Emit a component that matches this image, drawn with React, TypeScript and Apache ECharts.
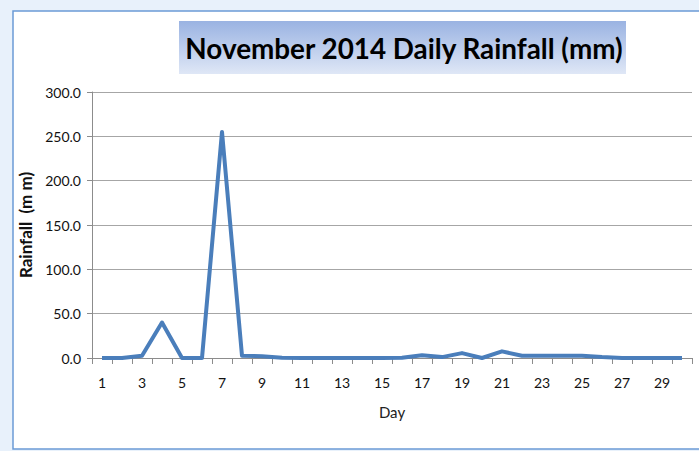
import React, { useEffect, useRef } from "react";
import * as echarts from "echarts";

const days: string[] = Array.from({ length: 30 }, (_, i) => String(i + 1));
const rainfall: number[] = [
  0, 0, 2.5, 40, 0, 0, 255, 2.5, 2, 0.3,
  0, 0, 0, 0, 0, 0.3, 3, 1, 5.5, 0,
  7.5, 2.5, 2.5, 2.5, 2.5, 1, 0, 0, 0, 0,
];
const chartTitle = "November 2014 Daily Rainfall (mm)";
const yAxisTitle = "Rainfall  (m m)";
const xAxisTitle = "Day";

export default function App() {
  const ref = useRef<HTMLDivElement>(null);
  useEffect(() => {
    document.body.style.margin = "0";
    if (!ref.current) return;
    const chart = echarts.init(ref.current, undefined, { renderer: "svg" });
    const font = "Lato, 'Open Sans', sans-serif";
    chart.setOption({
      animation: false,
      backgroundColor: "#e8f1fb",
      graphic: [
        {
          type: "rect",
          z: -10,
          shape: { x: 13, y: 11, width: 700, height: 438 },
          style: { fill: "#ffffff", stroke: "#6b9bd6", lineWidth: 1.5 },
        },
        {
          type: "rect",
          z: -5,
          shape: { x: 179, y: 21, width: 447, height: 53 },
          style: {
            fill: new echarts.graphic.LinearGradient(0, 0, 0, 1, [
              { offset: 0, color: "#9ab3e2" },
              { offset: 1, color: "#dfe7f6" },
            ]),
          },
        },
        {
          type: "text",
          x: 404,
          y: 48,
          scaleX: 0.96,
          style: {
            text: chartTitle,
            font: "bold 29px " + font,
            fill: "#000000",
            align: "center",
            verticalAlign: "middle",
          },
        },
      ],
      grid: { left: 92, right: 7, top: 92, bottom: 93, containLabel: false },
      xAxis: {
        type: "category",
        data: days,
        boundaryGap: true,
        name: xAxisTitle,
        nameLocation: "middle",
        nameGap: 46,
        nameTextStyle: { fontFamily: font, fontSize: 15, color: "#222" },
        axisLine: { lineStyle: { color: "#8c8c8c", width: 1 } },
        axisTick: { show: true, interval: 0, length: 6, lineStyle: { color: "#8c8c8c" } },
        axisLabel: { interval: 1, fontFamily: font, fontSize: 14, color: "#111", margin: 17 },
        splitLine: { show: false },
      },
      yAxis: {
        type: "value",
        min: 0,
        max: 300,
        interval: 50,
        name: yAxisTitle,
        nameLocation: "middle",
        nameGap: 51,
        nameRotate: 90,
        nameTextStyle: { fontFamily: font, fontSize: 17, fontWeight: "bold", color: "#111" },
        axisLine: { show: true, lineStyle: { color: "#8c8c8c", width: 1 } },
        axisTick: { show: true, inside: false, length: 5, lineStyle: { color: "#8c8c8c" } },
        axisLabel: {
          fontFamily: font,
          fontSize: 14,
          color: "#111",
          margin: 11,
          formatter: (v: number) => v.toFixed(1),
        },
        splitLine: { show: true, lineStyle: { color: "#a6a6a6", width: 1 } },
      },
      series: [
        {
          type: "line",
          data: rainfall,
          symbol: "none",
          lineStyle: { color: "#4a7ebb", width: 4, join: "round" },
          itemStyle: { color: "#4a7ebb" },
        },
      ],
    });
    return () => chart.dispose();
  }, []);
  return <div ref={ref} style={{ width: 699, height: 451 }} />;
}
